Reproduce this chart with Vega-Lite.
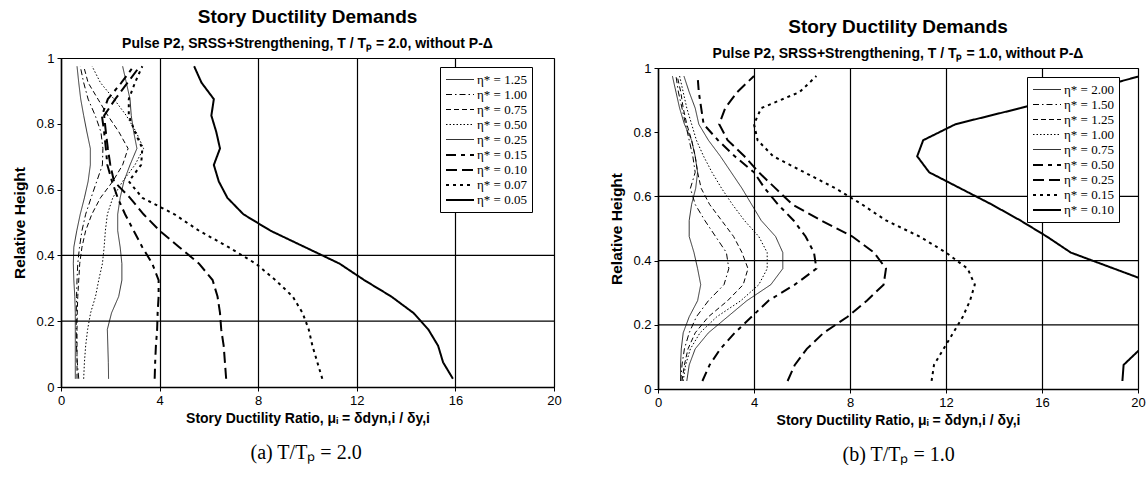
{
  "$schema": "https://vega.github.io/schema/vega-lite/v6.json",
  "background": "white",
  "padding": {"left": 12, "top": 8, "right": 0, "bottom": 0},
  "spacing": 47,
  "config": {
    "view": {"stroke": "black", "strokeWidth": 1},
    "axis": {"domainColor": "black", "domainWidth": 1.5, "tickColor": "black", "tickSize": 4, "labelColor": "black", "titleColor": "black", "labelFont": "Liberation Sans", "titleFont": "Liberation Sans", "labelFontSize": 13, "titleFontSize": 14, "titleFontWeight": "bold", "gridColor": "black", "gridOpacity": 1, "gridWidth": 1.2, "labelPadding": 3},
    "axisY": {"titleFontSize": 15.5, "titlePadding": 8},
    "legend": {"labelFont": "Liberation Serif", "labelFontSize": 13, "labelColor": "black", "strokeColor": "black", "fillColor": "white", "padding": 5, "rowPadding": 0, "symbolType": "M-2,0H2", "symbolSize": 196, "symbolStrokeColor": "black", "symbolFillColor": "transparent", "symbolOffset": 7, "labelOffset": 9},
    "title": {"font": "Liberation Sans", "fontSize": 19, "fontWeight": "bold", "color": "black", "subtitleFont": "Liberation Sans", "subtitleFontSize": 14, "subtitleFontWeight": "bold", "subtitleColor": "black", "subtitlePadding": 10, "anchor": "middle", "frame": "group"}
  },
  "datasets": {
    "none": [],
    "gL": [{"y": 0.2}, {"y": 0.4}],
    "gR": [{"y": 0.2}, {"y": 0.4}, {"y": 0.6}],
    "L": [
      {"e":"1.25","h":0.975,"m":0.65},{"e":"1.25","h":0.925,"m":0.72},{"e":"1.25","h":0.875,"m":0.8},{"e":"1.25","h":0.825,"m":0.92},{"e":"1.25","h":0.775,"m":1.05},{"e":"1.25","h":0.725,"m":1.19},{"e":"1.25","h":0.675,"m":1.19},{"e":"1.25","h":0.625,"m":1.1},{"e":"1.25","h":0.575,"m":0.95},{"e":"1.25","h":0.525,"m":0.78},{"e":"1.25","h":0.475,"m":0.64},{"e":"1.25","h":0.425,"m":0.52},{"e":"1.25","h":0.375,"m":0.5},{"e":"1.25","h":0.325,"m":0.52},{"e":"1.25","h":0.275,"m":0.56},{"e":"1.25","h":0.225,"m":0.58},{"e":"1.25","h":0.175,"m":0.58},{"e":"1.25","h":0.125,"m":0.58},{"e":"1.25","h":0.075,"m":0.58},{"e":"1.25","h":0.025,"m":0.58},
      {"e":"1.00","h":0.975,"m":0.78},{"e":"1.00","h":0.925,"m":0.92},{"e":"1.00","h":0.875,"m":1.1},{"e":"1.00","h":0.825,"m":1.39},{"e":"1.00","h":0.775,"m":1.62},{"e":"1.00","h":0.725,"m":1.7},{"e":"1.00","h":0.675,"m":1.68},{"e":"1.00","h":0.625,"m":1.45},{"e":"1.00","h":0.575,"m":1.22},{"e":"1.00","h":0.525,"m":1.0},{"e":"1.00","h":0.475,"m":0.85},{"e":"1.00","h":0.425,"m":0.75},{"e":"1.00","h":0.375,"m":0.68},{"e":"1.00","h":0.325,"m":0.65},{"e":"1.00","h":0.275,"m":0.63},{"e":"1.00","h":0.225,"m":0.62},{"e":"1.00","h":0.175,"m":0.62},{"e":"1.00","h":0.125,"m":0.63},{"e":"1.00","h":0.075,"m":0.66},{"e":"1.00","h":0.025,"m":0.72},
      {"e":"0.75","h":0.975,"m":0.92},{"e":"0.75","h":0.925,"m":1.1},{"e":"0.75","h":0.875,"m":1.5},{"e":"0.75","h":0.825,"m":1.9},{"e":"0.75","h":0.775,"m":2.35},{"e":"0.75","h":0.725,"m":2.72},{"e":"0.75","h":0.675,"m":2.5},{"e":"0.75","h":0.625,"m":2.1},{"e":"0.75","h":0.575,"m":1.6},{"e":"0.75","h":0.525,"m":1.25},{"e":"0.75","h":0.475,"m":1.0},{"e":"0.75","h":0.425,"m":0.85},{"e":"0.75","h":0.375,"m":0.76},{"e":"0.75","h":0.325,"m":0.72},{"e":"0.75","h":0.275,"m":0.68},{"e":"0.75","h":0.225,"m":0.66},{"e":"0.75","h":0.175,"m":0.65},{"e":"0.75","h":0.125,"m":0.65},{"e":"0.75","h":0.075,"m":0.65},{"e":"0.75","h":0.025,"m":0.65},
      {"e":"0.50","h":0.975,"m":1.26},{"e":"0.50","h":0.925,"m":1.6},{"e":"0.50","h":0.875,"m":2.15},{"e":"0.50","h":0.825,"m":2.65},{"e":"0.50","h":0.775,"m":3.05},{"e":"0.50","h":0.725,"m":3.35},{"e":"0.50","h":0.675,"m":3.0},{"e":"0.50","h":0.625,"m":2.5},{"e":"0.50","h":0.575,"m":2.1},{"e":"0.50","h":0.525,"m":1.88},{"e":"0.50","h":0.475,"m":1.8},{"e":"0.50","h":0.425,"m":1.75},{"e":"0.50","h":0.375,"m":1.68},{"e":"0.50","h":0.325,"m":1.53},{"e":"0.50","h":0.275,"m":1.4},{"e":"0.50","h":0.225,"m":1.2},{"e":"0.50","h":0.175,"m":1.08},{"e":"0.50","h":0.125,"m":1.0},{"e":"0.50","h":0.075,"m":0.95},{"e":"0.50","h":0.025,"m":0.92},
      {"e":"0.25","h":0.975,"m":2.5},{"e":"0.25","h":0.925,"m":2.65},{"e":"0.25","h":0.875,"m":2.8},{"e":"0.25","h":0.825,"m":2.85},{"e":"0.25","h":0.775,"m":2.95},{"e":"0.25","h":0.725,"m":3.08},{"e":"0.25","h":0.675,"m":2.8},{"e":"0.25","h":0.625,"m":2.55},{"e":"0.25","h":0.575,"m":2.4},{"e":"0.25","h":0.525,"m":2.3},{"e":"0.25","h":0.475,"m":2.3},{"e":"0.25","h":0.425,"m":2.4},{"e":"0.25","h":0.375,"m":2.47},{"e":"0.25","h":0.325,"m":2.47},{"e":"0.25","h":0.275,"m":2.34},{"e":"0.25","h":0.225,"m":2.05},{"e":"0.25","h":0.175,"m":1.88},{"e":"0.25","h":0.125,"m":1.9},{"e":"0.25","h":0.075,"m":1.92},{"e":"0.25","h":0.025,"m":1.93},
      {"e":"0.15","h":0.975,"m":2.95},{"e":"0.15","h":0.925,"m":2.45},{"e":"0.15","h":0.875,"m":1.9},{"e":"0.15","h":0.825,"m":1.66},{"e":"0.15","h":0.775,"m":1.75},{"e":"0.15","h":0.725,"m":1.82},{"e":"0.15","h":0.675,"m":1.88},{"e":"0.15","h":0.625,"m":2.07},{"e":"0.15","h":0.575,"m":2.3},{"e":"0.15","h":0.525,"m":2.6},{"e":"0.15","h":0.475,"m":2.95},{"e":"0.15","h":0.425,"m":3.3},{"e":"0.15","h":0.375,"m":3.7},{"e":"0.15","h":0.325,"m":3.96},{"e":"0.15","h":0.275,"m":3.96},{"e":"0.15","h":0.225,"m":3.92},{"e":"0.15","h":0.175,"m":3.9},{"e":"0.15","h":0.125,"m":3.85},{"e":"0.15","h":0.075,"m":3.82},{"e":"0.15","h":0.025,"m":3.8},
      {"e":"0.10","h":0.975,"m":3.2},{"e":"0.10","h":0.925,"m":2.7},{"e":"0.10","h":0.875,"m":2.2},{"e":"0.10","h":0.825,"m":1.75},{"e":"0.10","h":0.775,"m":1.82},{"e":"0.10","h":0.725,"m":1.9},{"e":"0.10","h":0.675,"m":2.0},{"e":"0.10","h":0.625,"m":2.15},{"e":"0.10","h":0.575,"m":2.8},{"e":"0.10","h":0.525,"m":3.35},{"e":"0.10","h":0.475,"m":4.0},{"e":"0.10","h":0.425,"m":4.8},{"e":"0.10","h":0.375,"m":5.6},{"e":"0.10","h":0.325,"m":6.15},{"e":"0.10","h":0.275,"m":6.35},{"e":"0.10","h":0.225,"m":6.45},{"e":"0.10","h":0.175,"m":6.5},{"e":"0.10","h":0.125,"m":6.6},{"e":"0.10","h":0.075,"m":6.65},{"e":"0.10","h":0.025,"m":6.7},
      {"e":"0.07","h":0.975,"m":3.3},{"e":"0.07","h":0.925,"m":3.0},{"e":"0.07","h":0.875,"m":2.75},{"e":"0.07","h":0.825,"m":2.75},{"e":"0.07","h":0.775,"m":3.0},{"e":"0.07","h":0.725,"m":3.3},{"e":"0.07","h":0.675,"m":3.25},{"e":"0.07","h":0.625,"m":2.75},{"e":"0.07","h":0.575,"m":3.3},{"e":"0.07","h":0.525,"m":4.6},{"e":"0.07","h":0.475,"m":5.6},{"e":"0.07","h":0.425,"m":6.8},{"e":"0.07","h":0.375,"m":7.9},{"e":"0.07","h":0.325,"m":8.7},{"e":"0.07","h":0.275,"m":9.4},{"e":"0.07","h":0.225,"m":9.8},{"e":"0.07","h":0.175,"m":10.05},{"e":"0.07","h":0.125,"m":10.2},{"e":"0.07","h":0.075,"m":10.4},{"e":"0.07","h":0.025,"m":10.6},
      {"e":"0.05","h":0.975,"m":5.4},{"e":"0.05","h":0.925,"m":5.7},{"e":"0.05","h":0.875,"m":6.2},{"e":"0.05","h":0.825,"m":6.1},{"e":"0.05","h":0.775,"m":6.3},{"e":"0.05","h":0.725,"m":6.45},{"e":"0.05","h":0.675,"m":6.2},{"e":"0.05","h":0.625,"m":6.4},{"e":"0.05","h":0.575,"m":6.75},{"e":"0.05","h":0.525,"m":7.4},{"e":"0.05","h":0.475,"m":8.5},{"e":"0.05","h":0.425,"m":9.9},{"e":"0.05","h":0.375,"m":11.3},{"e":"0.05","h":0.325,"m":12.3},{"e":"0.05","h":0.275,"m":13.4},{"e":"0.05","h":0.225,"m":14.3},{"e":"0.05","h":0.175,"m":14.9},{"e":"0.05","h":0.125,"m":15.3},{"e":"0.05","h":0.075,"m":15.5},{"e":"0.05","h":0.025,"m":15.9}
    ],
    "R": [
      {"e":"2.00","h":0.975,"m":0.6},{"e":"2.00","h":0.925,"m":0.75},{"e":"2.00","h":0.875,"m":0.9},{"e":"2.00","h":0.825,"m":1.1},{"e":"2.00","h":0.775,"m":1.4},{"e":"2.00","h":0.725,"m":1.55},{"e":"2.00","h":0.675,"m":1.65},{"e":"2.00","h":0.625,"m":1.57},{"e":"2.00","h":0.575,"m":1.4},{"e":"2.00","h":0.525,"m":1.3},{"e":"2.00","h":0.475,"m":1.3},{"e":"2.00","h":0.425,"m":1.5},{"e":"2.00","h":0.375,"m":1.65},{"e":"2.00","h":0.325,"m":1.78},{"e":"2.00","h":0.275,"m":1.65},{"e":"2.00","h":0.225,"m":1.3},{"e":"2.00","h":0.175,"m":1.05},{"e":"2.00","h":0.125,"m":0.97},{"e":"2.00","h":0.075,"m":0.94},{"e":"2.00","h":0.025,"m":0.94},
      {"e":"1.50","h":0.975,"m":0.75},{"e":"1.50","h":0.925,"m":0.85},{"e":"1.50","h":0.875,"m":1.0},{"e":"1.50","h":0.825,"m":1.15},{"e":"1.50","h":0.775,"m":1.3},{"e":"1.50","h":0.725,"m":1.45},{"e":"1.50","h":0.675,"m":1.55},{"e":"1.50","h":0.625,"m":1.35},{"e":"1.50","h":0.575,"m":1.55},{"e":"1.50","h":0.525,"m":1.95},{"e":"1.50","h":0.475,"m":2.4},{"e":"1.50","h":0.425,"m":2.85},{"e":"1.50","h":0.375,"m":2.95},{"e":"1.50","h":0.325,"m":2.75},{"e":"1.50","h":0.275,"m":2.1},{"e":"1.50","h":0.225,"m":1.6},{"e":"1.50","h":0.175,"m":1.3},{"e":"1.50","h":0.125,"m":1.1},{"e":"1.50","h":0.075,"m":1.0},{"e":"1.50","h":0.025,"m":0.95},
      {"e":"1.25","h":0.975,"m":0.8},{"e":"1.25","h":0.925,"m":0.95},{"e":"1.25","h":0.875,"m":1.05},{"e":"1.25","h":0.825,"m":1.2},{"e":"1.25","h":0.775,"m":1.4},{"e":"1.25","h":0.725,"m":1.55},{"e":"1.25","h":0.675,"m":1.65},{"e":"1.25","h":0.625,"m":1.8},{"e":"1.25","h":0.575,"m":2.15},{"e":"1.25","h":0.525,"m":2.65},{"e":"1.25","h":0.475,"m":3.15},{"e":"1.25","h":0.425,"m":3.5},{"e":"1.25","h":0.375,"m":3.75},{"e":"1.25","h":0.325,"m":3.55},{"e":"1.25","h":0.275,"m":2.9},{"e":"1.25","h":0.225,"m":2.1},{"e":"1.25","h":0.175,"m":1.55},{"e":"1.25","h":0.125,"m":1.25},{"e":"1.25","h":0.075,"m":1.1},{"e":"1.25","h":0.025,"m":1.0},
      {"e":"1.00","h":0.975,"m":0.9},{"e":"1.00","h":0.925,"m":1.05},{"e":"1.00","h":0.875,"m":1.2},{"e":"1.00","h":0.825,"m":1.4},{"e":"1.00","h":0.775,"m":1.6},{"e":"1.00","h":0.725,"m":1.9},{"e":"1.00","h":0.675,"m":2.25},{"e":"1.00","h":0.625,"m":2.65},{"e":"1.00","h":0.575,"m":3.1},{"e":"1.00","h":0.525,"m":3.6},{"e":"1.00","h":0.475,"m":4.2},{"e":"1.00","h":0.425,"m":4.55},{"e":"1.00","h":0.375,"m":4.55},{"e":"1.00","h":0.325,"m":4.2},{"e":"1.00","h":0.275,"m":3.45},{"e":"1.00","h":0.225,"m":2.45},{"e":"1.00","h":0.175,"m":1.75},{"e":"1.00","h":0.125,"m":1.35},{"e":"1.00","h":0.075,"m":1.15},{"e":"1.00","h":0.025,"m":1.05},
      {"e":"0.75","h":0.975,"m":1.08},{"e":"0.75","h":0.925,"m":1.3},{"e":"0.75","h":0.875,"m":1.55},{"e":"0.75","h":0.825,"m":1.7},{"e":"0.75","h":0.775,"m":2.1},{"e":"0.75","h":0.725,"m":2.6},{"e":"0.75","h":0.675,"m":3.05},{"e":"0.75","h":0.625,"m":3.5},{"e":"0.75","h":0.575,"m":3.9},{"e":"0.75","h":0.525,"m":4.3},{"e":"0.75","h":0.475,"m":4.9},{"e":"0.75","h":0.425,"m":5.2},{"e":"0.75","h":0.375,"m":5.2},{"e":"0.75","h":0.325,"m":4.7},{"e":"0.75","h":0.275,"m":3.7},{"e":"0.75","h":0.225,"m":2.9},{"e":"0.75","h":0.175,"m":2.1},{"e":"0.75","h":0.125,"m":1.55},{"e":"0.75","h":0.075,"m":1.3},{"e":"0.75","h":0.025,"m":1.2},
      {"e":"0.50","h":0.975,"m":1.65},{"e":"0.50","h":0.925,"m":1.7},{"e":"0.50","h":0.875,"m":1.8},{"e":"0.50","h":0.825,"m":1.9},{"e":"0.50","h":0.775,"m":2.5},{"e":"0.50","h":0.725,"m":3.2},{"e":"0.50","h":0.675,"m":4.0},{"e":"0.50","h":0.625,"m":4.45},{"e":"0.50","h":0.575,"m":5.0},{"e":"0.50","h":0.525,"m":5.65},{"e":"0.50","h":0.475,"m":6.15},{"e":"0.50","h":0.425,"m":6.5},{"e":"0.50","h":0.375,"m":6.6},{"e":"0.50","h":0.325,"m":5.7},{"e":"0.50","h":0.275,"m":4.6},{"e":"0.50","h":0.225,"m":3.9},{"e":"0.50","h":0.175,"m":3.2},{"e":"0.50","h":0.125,"m":2.6},{"e":"0.50","h":0.075,"m":2.15},{"e":"0.50","h":0.025,"m":1.85},
      {"e":"0.25","h":0.975,"m":4.0},{"e":"0.25","h":0.925,"m":3.3},{"e":"0.25","h":0.875,"m":2.8},{"e":"0.25","h":0.825,"m":2.55},{"e":"0.25","h":0.775,"m":2.9},{"e":"0.25","h":0.725,"m":3.6},{"e":"0.25","h":0.675,"m":4.2},{"e":"0.25","h":0.625,"m":4.9},{"e":"0.25","h":0.575,"m":5.6},{"e":"0.25","h":0.525,"m":6.8},{"e":"0.25","h":0.475,"m":8.1},{"e":"0.25","h":0.425,"m":9.0},{"e":"0.25","h":0.375,"m":9.5},{"e":"0.25","h":0.325,"m":9.4},{"e":"0.25","h":0.275,"m":8.7},{"e":"0.25","h":0.225,"m":7.9},{"e":"0.25","h":0.175,"m":6.9},{"e":"0.25","h":0.125,"m":6.2},{"e":"0.25","h":0.075,"m":5.7},{"e":"0.25","h":0.025,"m":5.4},
      {"e":"0.15","h":0.975,"m":6.6},{"e":"0.15","h":0.925,"m":5.9},{"e":"0.15","h":0.875,"m":4.3},{"e":"0.15","h":0.825,"m":4.0},{"e":"0.15","h":0.775,"m":4.15},{"e":"0.15","h":0.725,"m":4.8},{"e":"0.15","h":0.675,"m":6.1},{"e":"0.15","h":0.625,"m":7.4},{"e":"0.15","h":0.575,"m":8.5},{"e":"0.15","h":0.525,"m":9.5},{"e":"0.15","h":0.475,"m":10.9},{"e":"0.15","h":0.425,"m":12.0},{"e":"0.15","h":0.375,"m":12.9},{"e":"0.15","h":0.325,"m":13.2},{"e":"0.15","h":0.275,"m":13.0},{"e":"0.15","h":0.225,"m":12.7},{"e":"0.15","h":0.175,"m":12.3},{"e":"0.15","h":0.125,"m":11.9},{"e":"0.15","h":0.075,"m":11.5},{"e":"0.15","h":0.025,"m":11.4},
      {"e":"0.10","h":0.975,"m":20.1},{"e":"0.10","h":0.925,"m":17.6},{"e":"0.10","h":0.875,"m":15.1},{"e":"0.10","h":0.825,"m":12.4},{"e":"0.10","h":0.775,"m":11.05},{"e":"0.10","h":0.725,"m":10.8},{"e":"0.10","h":0.675,"m":11.3},{"e":"0.10","h":0.625,"m":12.6},{"e":"0.10","h":0.575,"m":13.9},{"e":"0.10","h":0.525,"m":15.1},{"e":"0.10","h":0.475,"m":16.2},{"e":"0.10","h":0.425,"m":17.2},{"e":"0.10","h":0.375,"m":19.0},{"e":"0.10","h":0.325,"m":20.8},{"e":"0.10","h":0.275,"m":22.0},{"e":"0.10","h":0.225,"m":22.2},{"e":"0.10","h":0.175,"m":21.5},{"e":"0.10","h":0.125,"m":20.1},{"e":"0.10","h":0.075,"m":19.4},{"e":"0.10","h":0.025,"m":19.35}
    ]
  },
  "hconcat": [
    {
      "title": {"text": "(a) T/Tₚ = 2.0", "orient": "bottom", "font": "Liberation Serif", "fontSize": 20, "fontWeight": "normal", "offset": 17, "dx": 19, "frame": "bounds"},
      "spacing": 0,
      "resolve": {"scale": {"strokeDash": "independent", "strokeWidth": "independent"}, "legend": {"strokeDash": "independent", "strokeWidth": "independent"}},
      "vconcat": [
        {
          "width": 493,
          "height": 1,
          "view": {"stroke": null},
          "title": {"text": "Story Ductility Demands", "subtitle": "Pulse P2, SRSS+Strengthening, T / Tₚ = 2.0, without P-Δ", "offset": -4},
          "data": {"name": "none"},
          "mark": "text",
          "encoding": {}
        },
        {
          "width": 493,
          "height": 329,
          "layer": [
            {
              "data": {"name": "gL"},
              "mark": {"type": "rule", "color": "black", "strokeWidth": 1.2},
              "encoding": {"y": {"field": "y", "type": "quantitative", "scale": {"domain": [0, 1], "nice": false}, "axis": {"values": [0, 0.2, 0.4, 0.6, 0.8, 1], "format": ".1~f", "grid": false, "labelFlush": false, "title": "Relative Height"}}}
            },
            {
              "data": {"name": "L"},
              "mark": {"type": "line", "clip": true, "color": "black"},
              "encoding": {
                "x": {"field": "m", "type": "quantitative", "scale": {"domain": [0, 20], "nice": false}, "axis": {"values": [0, 4, 8, 12, 16, 20], "grid": true, "labelFlush": false, "title": "Story Ductility Ratio, μᵢ = δdyn,i / δy,i"}},
                "y": {"field": "h", "type": "quantitative", "scale": {"domain": [0, 1], "nice": false}, "axis": {"values": [0, 0.2, 0.4, 0.6, 0.8, 1], "format": ".1~f", "grid": false, "labelFlush": false, "title": "Relative Height"}},
                "order": {"field": "h", "type": "quantitative"},
                "strokeDash": {"field": "e", "type": "ordinal", "scale": {"type": "ordinal", "domain": ["1.25", "1.00", "0.75", "0.50", "0.25", "0.15", "0.10", "0.07", "0.05"], "range": [[1, 0], [6, 3, 1.5, 3], [5, 3], [1.5, 2], [1, 0], [10, 5, 4, 5], [11, 5], [3, 4], [1, 0]]}, "legend": {"orient": "none", "legendX": 379, "legendY": 9, "title": null, "labelExpr": "'η* = ' + datum.label"}},
                "strokeWidth": {"field": "e", "type": "ordinal", "scale": {"type": "ordinal", "domain": ["1.25", "1.00", "0.75", "0.50", "0.25", "0.15", "0.10", "0.07", "0.05"], "range": [0.8, 1, 1, 1, 0.8, 2, 2, 2, 2]}, "legend": {"orient": "none", "legendX": 379, "legendY": 9, "title": null, "labelExpr": "'η* = ' + datum.label"}}
              }
            }
          ]
        }
      ]
    },
    {
      "title": {"text": "(b) T/Tₚ = 1.0", "orient": "bottom", "font": "Liberation Serif", "fontSize": 20, "fontWeight": "normal", "offset": 17, "dx": 21, "frame": "bounds"},
      "spacing": 0,
      "resolve": {"scale": {"strokeDash": "independent", "strokeWidth": "independent"}, "legend": {"strokeDash": "independent", "strokeWidth": "independent"}},
      "vconcat": [
        {
          "width": 480,
          "height": 11,
          "view": {"stroke": null},
          "title": {"text": "Story Ductility Demands", "subtitle": "Pulse P2, SRSS+Strengthening, T / Tₚ = 1.0, without P-Δ", "offset": -14},
          "data": {"name": "none"},
          "mark": "text",
          "encoding": {}
        },
        {
          "width": 480,
          "height": 321,
          "layer": [
            {
              "data": {"name": "gR"},
              "mark": {"type": "rule", "color": "black", "strokeWidth": 1.2},
              "encoding": {"y": {"field": "y", "type": "quantitative", "scale": {"domain": [0, 1], "nice": false}, "axis": {"values": [0, 0.2, 0.4, 0.6, 0.8, 1], "format": ".1~f", "grid": false, "labelFlush": false, "title": "Relative Height"}}}
            },
            {
              "data": {"name": "R"},
              "mark": {"type": "line", "clip": true, "color": "black"},
              "encoding": {
                "x": {"field": "m", "type": "quantitative", "scale": {"domain": [0, 20], "nice": false}, "axis": {"values": [0, 4, 8, 12, 16, 20], "grid": true, "labelFlush": false, "title": "Story Ductility Ratio, μᵢ = δdyn,i / δy,i"}},
                "y": {"field": "h", "type": "quantitative", "scale": {"domain": [0, 1], "nice": false}, "axis": {"values": [0, 0.2, 0.4, 0.6, 0.8, 1], "format": ".1~f", "grid": false, "labelFlush": false, "title": "Relative Height"}},
                "order": {"field": "h", "type": "quantitative"},
                "strokeDash": {"field": "e", "type": "ordinal", "scale": {"type": "ordinal", "domain": ["2.00", "1.50", "1.25", "1.00", "0.75", "0.50", "0.25", "0.15", "0.10"], "range": [[1, 0], [6, 3, 1.5, 3], [5, 3], [1.5, 2], [1, 0], [10, 5, 4, 5], [11, 5], [3, 4], [1, 0]]}, "legend": {"orient": "none", "legendX": 369, "legendY": 9, "title": null, "labelExpr": "'η* = ' + datum.label"}},
                "strokeWidth": {"field": "e", "type": "ordinal", "scale": {"type": "ordinal", "domain": ["2.00", "1.50", "1.25", "1.00", "0.75", "0.50", "0.25", "0.15", "0.10"], "range": [0.8, 1, 1, 1, 0.8, 2, 2, 2, 2]}, "legend": {"orient": "none", "legendX": 369, "legendY": 9, "title": null, "labelExpr": "'η* = ' + datum.label"}}
              }
            }
          ]
        }
      ]
    }
  ],
  "resolve": {"scale": {"strokeDash": "independent", "strokeWidth": "independent"}, "legend": {"strokeDash": "independent", "strokeWidth": "independent"}}
}
